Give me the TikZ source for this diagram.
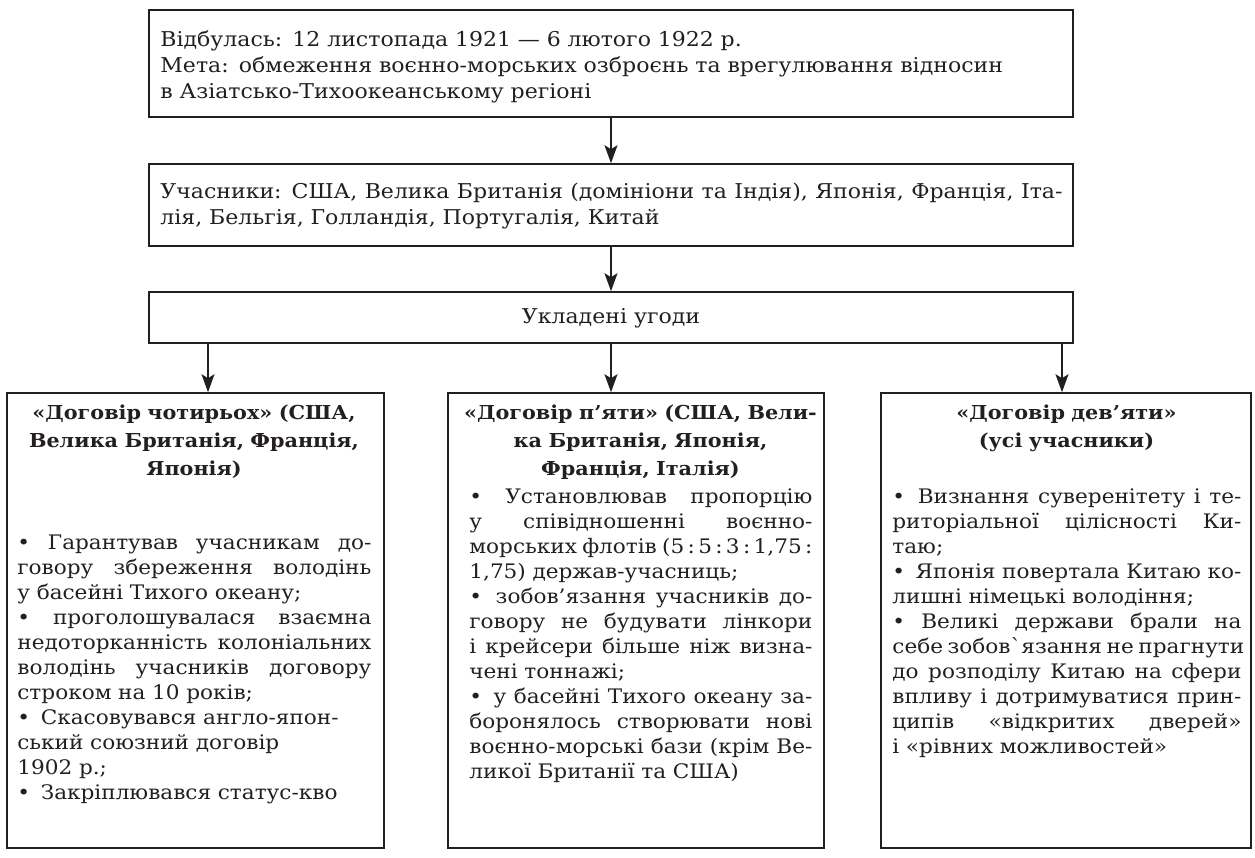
\documentclass[tikz,border=0pt]{standalone}
\usepackage{fontspec}
\setmainfont{DejaVu Serif}[FakeStretch=1.08]
\usetikzlibrary{arrows.meta}
\definecolor{ink}{RGB}{35,31,32}
\newlength{\mywd}
\newcommand{\myj}[1]{\makebox[\mywd][s]{\spaceskip=0pt\xspaceskip=0pt\relax #1}}
\newcommand{\myl}[1]{\makebox[\mywd][l]{#1}}
\newcommand{\myc}[1]{\makebox[\mywd][c]{#1}}
\begin{document}
\begin{tikzpicture}[x=0.5pt,y=-0.5pt,
  box/.style={draw=ink, line width=0.8pt, inner sep=0pt, fill=white},
  arr/.style={draw=ink, line width=0.8pt, -{Stealth[length=9pt,width=6.5pt,inset=2pt]}},
  txt/.style={inner sep=0pt, text=ink, font=\fontsize{10}{12.5}\selectfont, align=left},
  toptxt/.style={inner sep=0pt, text=ink, font=\fontsize{10.2}{13}\selectfont, align=left},
  ttl/.style={inner sep=0pt, text=ink, font=\bfseries\fontsize{9.6}{14}\selectfont, align=center},
]
\useasboundingbox[fill=white] (0,0) rectangle (1255,858);
% boxes
\node[box, minimum width=462pt, minimum height=53.5pt] (b1) at (611,63.5) {};
\node[box, minimum width=462pt, minimum height=41pt] (b2) at (611,205) {};
\node[box, minimum width=462pt, minimum height=25.5pt] (b3) at (611,317.5) {};
\node[box, minimum width=188.5pt, minimum height=227.5pt] (bl) at (195.5,620.5) {};
\node[box, minimum width=188pt, minimum height=227.5pt] (bm) at (636,620.5) {};
\node[box, minimum width=185pt, minimum height=227.5pt] (br) at (1066,620.5) {};
% arrow positions
\coordinate (xa) at (208,0);
\coordinate (xc) at (1062,0);
\draw[arr] (b1.south) -- (b2.north);
\draw[arr] (b2.south) -- (b3.north);
\draw[arr] (xa |- b3.south) -- (xa |- bl.north);
\draw[arr] (b3.south) -- (b3.south |- bm.north);
\draw[arr] (xc |- b3.south) -- (xc |- br.north);
% top texts
\node[toptxt, anchor=base west, text width=451pt] (t1) at (160,46) {\setlength{\mywd}{451pt}%
\myl{Відбулась: 12 листопада 1921 — 6 лютого 1922 р.}\\
\myl{Мета: обмеження воєнно-морських озброєнь та врегулювання відносин}\\
\myl{в Азіатсько-Тихоокеанському регіоні}};
\node[toptxt, anchor=base west, text width=451pt] (t2) at (160,198) {\setlength{\mywd}{451pt}%
\myj{Учасники: США, Велика Британія (домініони та Індія), Японія, Франція, Іта-}\\
\myl{лія, Бельгія, Голландія, Португалія, Китай}};
\node[toptxt, anchor=base] (t3) at (611,323) {Укладені угоди};
% left
\node[ttl, anchor=base, text width=177pt] (hl) at (194,419) {\setlength{\mywd}{177pt}%
\myc{«Договір чотирьох» (США,}\\
\myc{Велика Британія, Франція,}\\
\myc{Японія)}};
\node[txt, anchor=base west, text width=177pt] (pl) at (17,549) {\setlength{\mywd}{177pt}%
\myj{• Гарантував учасникам до-}\\
\myj{говору збереження володінь}\\
\myl{у басейні Тихого океану;}\\
\myj{• проголошувалася взаємна}\\
\myj{недоторканність колоніальних}\\
\myj{володінь учасників договору}\\
\myl{строком на 10 років;}\\
\myl{•\kern2pt{} Скасовувався англо-япон-}\\
\myl{ський союзний договір}\\
\myl{1902 р.;}\\
\myl{•\kern2pt{} Закріплювався статус-кво}};
% middle
\node[ttl, anchor=base, text width=171.5pt] (hm) at (640.5,419) {\setlength{\mywd}{171.5pt}%
\myc{«Договір п’яти» (США, Вели-}\\
\myc{ка Британія, Японія,}\\
\myc{Франція, Італія)}};
\node[txt, anchor=base west, text width=171.5pt] (pm) at (469,503) {\setlength{\mywd}{171.5pt}%
\myj{• Установлював пропорцію}\\
\myj{у співідношенні воєнно-}\\
\myj{морських флотів (5\,:\,5\,:\,3\,:\,1,75\,:}\\
\myl{1,75) держав-учасниць;}\\
\myj{•\kern2pt{} зобов’язання учасників до-}\\
\myj{говору не будувати лінкори}\\
\myj{і крейсери більше ніж визна-}\\
\myl{чені тоннажі;}\\
\myj{•\kern2pt{} у басейні Тихого океану за-}\\
\myj{боронялось створювати нові}\\
\myj{воєнно-морські бази (крім Ве-}\\
\myl{ликої Британії та США)}};
% right
\node[ttl, anchor=base, text width=174.5pt] (hr) at (1066.5,419) {\setlength{\mywd}{174.5pt}%
\myc{«Договір дев’яти»}\\
\myc{(усі учасники)}};
\node[txt, anchor=base west, text width=174.5pt] (pr) at (892,503) {\setlength{\mywd}{174.5pt}%
\myj{•\kern2pt{} Визнання суверенітету і те-}\\
\myj{риторіальної цілісності Ки-}\\
\myl{таю;}\\
\myj{•\kern2pt{} Японія повертала Китаю ко-}\\
\myl{лишні німецькі володіння;}\\
\myj{• Великі держави брали на}\\
\myj{себе зобовˋязання не прагнути}\\
\myj{до розподілу Китаю на сфери}\\
\myj{впливу і дотримуватися прин-}\\
\myj{ципів «відкритих дверей»}\\
\myl{і «рівних можливостей»}};
\end{tikzpicture}
\end{document}
